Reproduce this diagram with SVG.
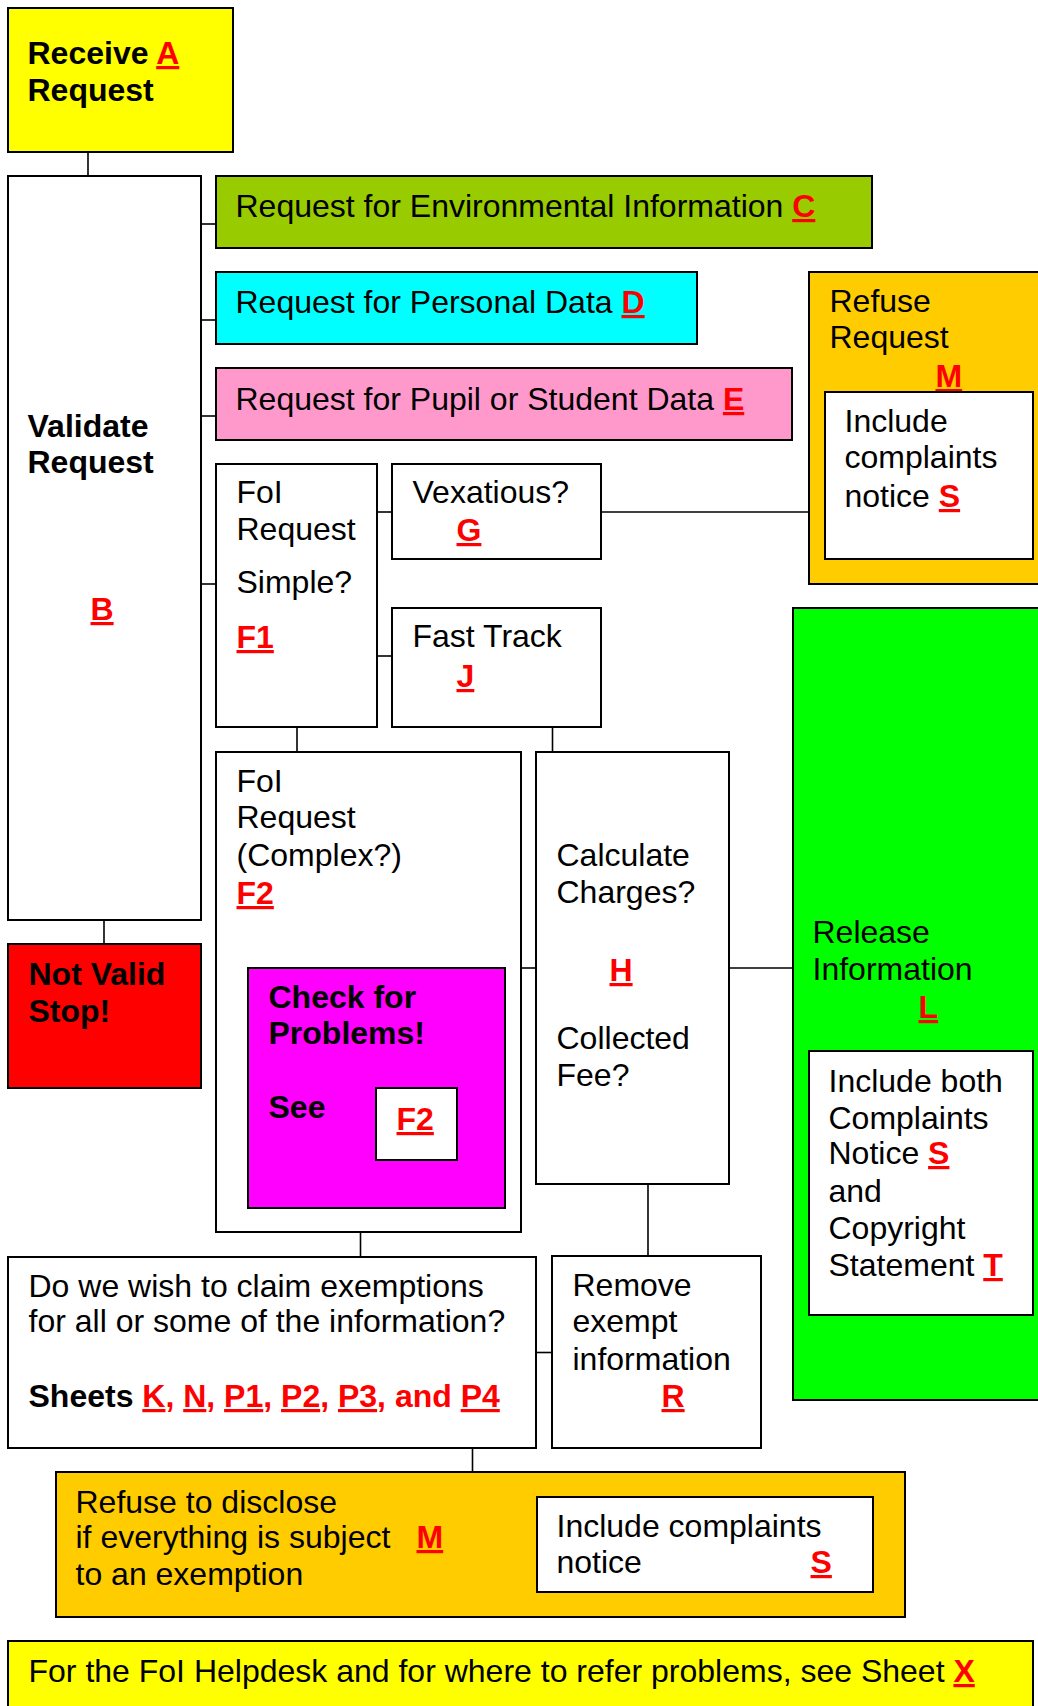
<svg xmlns="http://www.w3.org/2000/svg" width="1038" height="1706" viewBox="0 0 1038 1706">
<style>
.box{stroke:#000;stroke-width:2}
.w{fill:#fff}
text{font-family:"Liberation Sans",Arial,Helvetica,sans-serif;font-size:32px;fill:#000;transform:translate(-1.5px,0)}
.b{font-weight:bold}
.lk{fill:#ff0000;font-weight:bold;text-decoration:underline}
#connectors line{stroke:#000;stroke-width:1.6}
</style>
<rect width="1038" height="1706" fill="#fff"/>
<g id="connectors">
<line x1="88" y1="152" x2="88" y2="176"/>
<line x1="201" y1="224" x2="216" y2="224"/>
<line x1="201" y1="320" x2="216" y2="320"/>
<line x1="201" y1="416" x2="216" y2="416"/>
<line x1="201" y1="584" x2="216" y2="584"/>
<line x1="104" y1="920" x2="104" y2="944"/>
<line x1="377" y1="512" x2="392" y2="512"/>
<line x1="601" y1="512" x2="809" y2="512"/>
<line x1="377" y1="656" x2="392" y2="656"/>
<line x1="297" y1="727" x2="297" y2="752"/>
<line x1="552.5" y1="727" x2="552.5" y2="752"/>
<line x1="521" y1="968" x2="536" y2="968"/>
<line x1="729" y1="968" x2="793" y2="968"/>
<line x1="360.5" y1="1232" x2="360.5" y2="1257"/>
<line x1="648" y1="1184" x2="648" y2="1256"/>
<line x1="536" y1="1352.5" x2="552" y2="1352.5"/>
<line x1="472.5" y1="1448" x2="472.5" y2="1472"/>
</g>
<g id="receive">
<rect class="box" x="8" y="8" width="225" height="144" fill="#ffff00"/>
<text class="b" x="29" y="64">Receive <tspan class="lk">A</tspan></text>
<text class="b" x="29" y="101">Request</text>
</g>
<g id="validate">
<rect class="box w" x="8" y="176" width="193" height="744"/>
<text class="b" x="29" y="437">Validate</text>
<text class="b" x="29" y="473">Request</text>
<text class="lk" x="92" y="620">B</text>
</g>
<g id="environmental">
<rect class="box" x="216" y="176" width="656" height="72" fill="#99cc00"/>
<text x="237" y="217">Request for Environmental Information <tspan class="lk">C</tspan></text>
</g>
<g id="personal">
<rect class="box" x="216" y="272" width="481" height="72" fill="#00ffff"/>
<text x="237" y="313">Request for Personal Data <tspan class="lk">D</tspan></text>
</g>
<g id="pupil">
<rect class="box" x="216" y="368" width="576" height="72" fill="#ff99cc"/>
<text x="237" y="410">Request for Pupil or Student Data <tspan class="lk">E</tspan></text>
</g>
<g id="refuse">
<rect class="box" x="809" y="272" width="240" height="312" fill="#ffcc00"/>
<text x="831" y="312">Refuse</text>
<text x="831" y="348">Request</text>
<text class="lk" x="937" y="387">M</text>
<rect class="box w" x="825" y="392" width="208" height="167"/>
<text x="846" y="432">Include</text>
<text x="846" y="468">complaints</text>
<text x="846" y="507">notice <tspan class="lk">S</tspan></text>
</g>
<g id="foi-simple">
<rect class="box w" x="216" y="464" width="161" height="263"/>
<text x="238" y="503">FoI</text>
<text x="238" y="540">Request</text>
<text x="238" y="593">Simple?</text>
<text class="lk" x="238" y="648">F1</text>
</g>
<g id="vexatious">
<rect class="box w" x="392" y="464" width="209" height="95"/>
<text x="414" y="503">Vexatious?</text>
<text class="lk" x="458" y="541">G</text>
</g>
<g id="fast-track">
<rect class="box w" x="392" y="608" width="209" height="119"/>
<text x="414" y="647">Fast Track</text>
<text class="lk" x="458" y="687">J</text>
</g>
<g id="foi-complex">
<rect class="box w" x="216" y="752" width="305" height="480"/>
<text x="238" y="792">FoI</text>
<text x="238" y="828">Request</text>
<text x="238" y="866">(Complex?)</text>
<text class="lk" x="238" y="904">F2</text>
</g>
<g id="check-problems">
<rect class="box" x="248" y="968" width="257" height="240" fill="#ff00ff"/>
<text class="b" x="270" y="1008">Check for</text>
<text class="b" x="270" y="1044">Problems!</text>
<text class="b" x="270" y="1118">See</text>
<rect class="box w" x="376" y="1088" width="81" height="72"/>
<text class="lk" x="398" y="1130">F2</text>
</g>
<g id="calculate">
<rect class="box w" x="536" y="752" width="193" height="432"/>
<text x="558" y="866">Calculate</text>
<text x="558" y="903">Charges?</text>
<text class="lk" x="611" y="981">H</text>
<text x="558" y="1049">Collected</text>
<text x="558" y="1086">Fee?</text>
</g>
<g id="release">
<rect class="box" x="793" y="608" width="256" height="792" fill="#00ff00"/>
<text x="814" y="943">Release</text>
<text x="814" y="980">Information</text>
<text class="lk" x="920" y="1018">L</text>
<rect class="box w" x="809" y="1051" width="224" height="264"/>
<text x="830" y="1092">Include both</text>
<text x="830" y="1129">Complaints</text>
<text x="830" y="1164">Notice <tspan class="lk">S</tspan></text>
<text x="830" y="1202">and</text>
<text x="830" y="1239">Copyright</text>
<text x="830" y="1276">Statement <tspan class="lk">T</tspan></text>
</g>
<g id="not-valid">
<rect class="box" x="8" y="944" width="193" height="144" fill="#ff0000"/>
<text class="b" x="30" y="985">Not Valid</text>
<text class="b" x="30" y="1022">Stop!</text>
</g>
<g id="exemptions">
<rect class="box w" x="8" y="1257" width="528" height="191"/>
<text x="30" y="1297">Do we wish to claim exemptions</text>
<text x="30" y="1332">for all or some of the information?</text>
<text class="b" x="30" y="1407">Sheets <tspan class="lk">K</tspan><tspan fill="#ff0000">, </tspan><tspan class="lk">N</tspan><tspan fill="#ff0000">, </tspan><tspan class="lk">P1</tspan><tspan fill="#ff0000">, </tspan><tspan class="lk">P2</tspan><tspan fill="#ff0000">, </tspan><tspan class="lk">P3</tspan><tspan fill="#ff0000">, and </tspan><tspan class="lk">P4</tspan></text>
</g>
<g id="remove">
<rect class="box w" x="552" y="1256" width="209" height="192"/>
<text x="574" y="1296">Remove</text>
<text x="574" y="1332">exempt</text>
<text x="574" y="1370">information</text>
<text class="lk" x="663" y="1407">R</text>
</g>
<g id="refuse-disclose">
<rect class="box" x="56" y="1472" width="849" height="145" fill="#ffcc00"/>
<text x="77" y="1513">Refuse to disclose</text>
<text x="77" y="1548">if everything is subject</text>
<text class="lk" x="418" y="1548">M</text>
<text x="77" y="1585">to an exemption</text>
<rect class="box w" x="537" y="1497" width="336" height="95"/>
<text x="558" y="1537">Include complaints</text>
<text x="558" y="1573">notice</text>
<text class="lk" x="812" y="1573">S</text>
</g>
<g id="helpdesk">
<rect class="box" x="8" y="1641" width="1025" height="80" fill="#ffff00"/>
<text x="30" y="1682">For the FoI Helpdesk and for where to refer problems, see Sheet <tspan class="lk">X</tspan></text>
</g>
</svg>
